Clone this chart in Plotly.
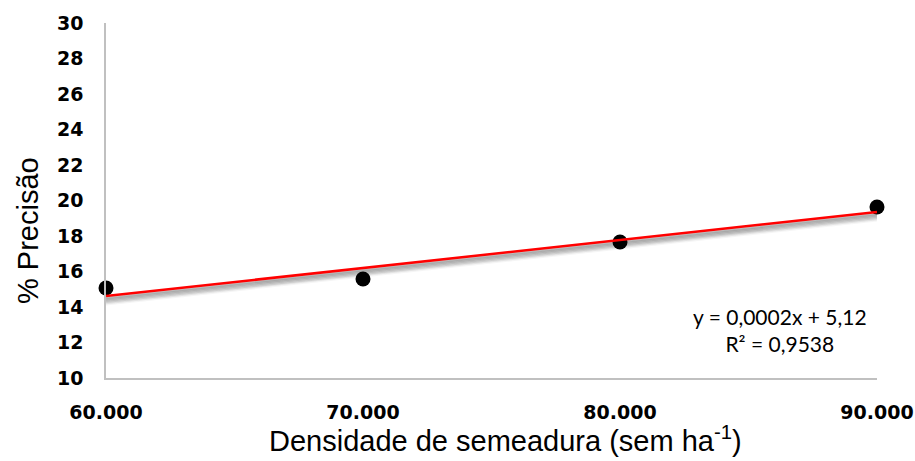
import numpy as np
import plotly.graph_objects as go

# Seeding density (seeds per hectare) and measured precision (%)
densidade = [60000, 70000, 80000, 90000]
precisao = [15.07, 15.58, 17.66, 19.63]

x_ticks = [60000, 70000, 80000, 90000]
x_labels = ["60.000", "70.000", "80.000", "90.000"]
y_ticks = list(range(10, 31, 2))

# Linear trend fitted to the measurements
slope, intercept = np.polyfit(densidade, precisao, 1)
x_fit = np.array([densidade[0], densidade[-1]])
y_fit = slope * x_fit + intercept

fig = go.Figure()

# Soft grey shadow under the trend line
shadow_steps = [(0.10, 0.30), (0.17, 0.30), (0.24, 0.25), (0.31, 0.20), (0.38, 0.13), (0.45, 0.07)]
for off, op in shadow_steps:
    fig.add_trace(go.Scatter(
        x=x_fit, y=y_fit - off, mode="lines",
        line=dict(color=f"rgba(110,110,110,{op})", width=3),
        hoverinfo="skip", showlegend=False,
    ))

fig.add_trace(go.Scatter(
    x=densidade, y=precisao, mode="markers",
    marker=dict(color="black", size=15),
    cliponaxis=False, showlegend=False,
))

fig.add_trace(go.Scatter(
    x=x_fit, y=y_fit, mode="lines",
    line=dict(color="#ff0000", width=2.5),
    showlegend=False,
))

# Plot-area geometry in pixels (used to place the free text)
PL, PR, PT, PB = 106, 877, 23, 378


def px_x(x):
    return (x - PL) / (PR - PL)


def px_y(y):
    return (PB - y) / (PB - PT)


fig.add_annotation(
    x=px_x(780), y=px_y(330), xref="paper", yref="paper",
    xanchor="center", yanchor="middle", showarrow=False,
    text="y = 0,0002x + 5,12<br>R² = 0,9538", align="center",
    font=dict(family="Lato", size=21, color="black"),
)

tick_font = dict(family="DejaVu Sans", size=19, color="black", weight="bold")
title_font = dict(family="Liberation Sans", size=29, color="black")

# Axis titles
fig.add_annotation(
    x=px_x(505), y=px_y(459), xref="paper", yref="paper",
    xanchor="center", yanchor="bottom", showarrow=False,
    text="Densidade de semeadura (sem ha<sup>-1</sup>)", font=title_font,
)
fig.add_annotation(
    x=px_x(28), y=px_y(231), xref="paper", yref="paper",
    xanchor="center", yanchor="middle", showarrow=False, textangle=-90,
    text="% Precisão", font=title_font,
)

fig.update_layout(
    width=915, height=461,
    margin=dict(l=PL, r=915 - PR, t=PT, b=461 - PB),
    paper_bgcolor="white", plot_bgcolor="white",
    xaxis=dict(
        range=[60000, 90000], tickvals=x_ticks, ticktext=x_labels, automargin=False,
        showgrid=False, zeroline=False, showline=True, linecolor="#c0c0c0", linewidth=1.5,
        ticks="", ticklabelstandoff=16, tickfont=tick_font,
    ),
    yaxis=dict(
        range=[10, 30], tickvals=y_ticks, automargin=False,
        showgrid=False, zeroline=False, showline=True, linecolor="#c0c0c0", linewidth=1.5,
        ticks="", ticklabelstandoff=17, tickfont=tick_font,
    ),
)

fig.write_html("out.html")
